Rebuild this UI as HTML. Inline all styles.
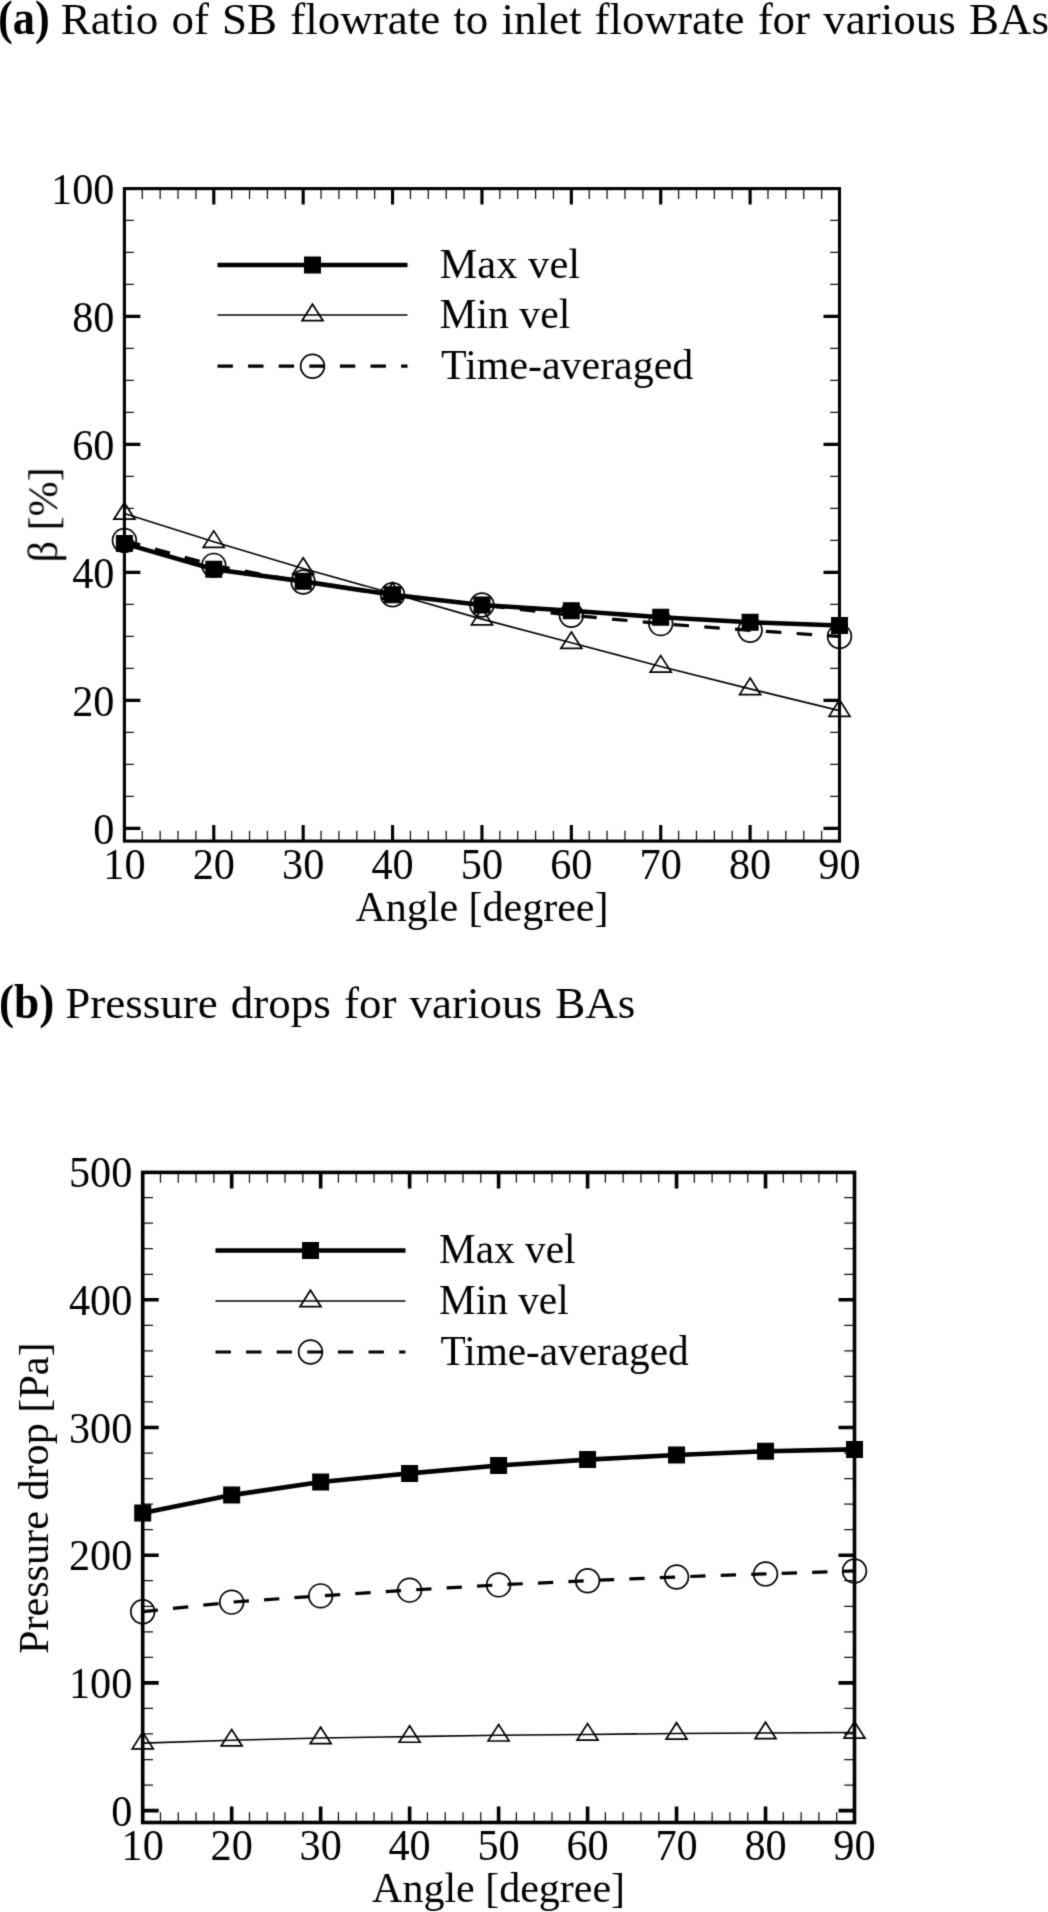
<!DOCTYPE html>
<html lang="en">
<head>
<meta charset="utf-8">
<title>Ratio of SB flowrate and pressure drops for various BAs</title>
<style>
html,body{margin:0;padding:0;background:#fff;}
body{width:1048px;height:1912px;position:relative;overflow:hidden;font-family:"Liberation Serif", "Times New Roman", serif;color:#000;}
figure{margin:0;padding:0;}
figcaption{filter:url(#soft2);position:absolute;left:-4.9px;margin:0;white-space:nowrap;font-size:45px;line-height:52px;height:52px;word-spacing:1.9px;}
#cap-a{top:-8.3px;}
figcaption b{display:inline-block;transform-origin:0 50%;}
#cap-a b{font-size:47.5px;margin-left:2.4px;margin-right:-5.3px;transform:scaleX(0.935);}
#cap-b b{font-size:47.5px;margin-left:2px;margin-right:-5px;transform:scaleX(0.953);}
#cap-b{top:976.4px;left:-3px;}
svg{position:absolute;left:0;top:0;width:1048px;height:1912px;}
.frame{fill:none;stroke:#000;}
.tk-major{fill:none;stroke:#000;}
.tk-minor{fill:none;stroke:#111;stroke-width:1.25;}
.lbl text{font-family:"Liberation Serif", "Times New Roman", serif;font-size:42.0px;fill:#000;}
.lbl text.num{font-size:43.5px;}
.ln-max{fill:none;stroke:#000;stroke-width:4.6;stroke-linejoin:round;}
.ln-min{fill:none;stroke:#000;stroke-width:1.6;}
.ln-avg{fill:none;stroke:#000;stroke-width:3.2;stroke-dasharray:15.4 15.2;}
.mk-sq{fill:#000;stroke:none;}
.mk-tri{fill:none;stroke:#000;stroke-width:1.7;stroke-linejoin:miter;}
.mk-cir{fill:none;stroke:#000;stroke-width:1.7;}
</style>
</head>
<body>
<svg viewBox="0 0 1048 1912" width="1048" height="1912">
<defs>
<filter id="soft" x="0" y="0" width="1048" height="1912" filterUnits="userSpaceOnUse" color-interpolation-filters="sRGB"><feConvolveMatrix order="3" kernelMatrix="0.0192 0.1001 0.0192 0.1001 0.5228 0.1001 0.0192 0.1001 0.0192" divisor="1" edgeMode="duplicate" preserveAlpha="false"/></filter>
<filter id="soft2" x="-2%" y="-10%" width="104%" height="120%" color-interpolation-filters="sRGB"><feConvolveMatrix order="3" kernelMatrix="0.0192 0.1001 0.0192 0.1001 0.5228 0.1001 0.0192 0.1001 0.0192" divisor="1" edgeMode="duplicate" preserveAlpha="false"/></filter>
</defs>
<g filter="url(#soft)">
<g id="chart-a">
<path class="tk-minor" d="M142.28 841.1v-10.3M142.28 188.6v10.3M160.16 841.1v-10.3M160.16 188.6v10.3M178.03 841.1v-10.3M178.03 188.6v10.3M195.91 841.1v-10.3M195.91 188.6v10.3M231.67 841.1v-10.3M231.67 188.6v10.3M249.54 841.1v-10.3M249.54 188.6v10.3M267.42 841.1v-10.3M267.42 188.6v10.3M285.3 841.1v-10.3M285.3 188.6v10.3M321.05 841.1v-10.3M321.05 188.6v10.3M338.93 841.1v-10.3M338.93 188.6v10.3M356.81 841.1v-10.3M356.81 188.6v10.3M374.69 841.1v-10.3M374.69 188.6v10.3M410.44 841.1v-10.3M410.44 188.6v10.3M428.32 841.1v-10.3M428.32 188.6v10.3M446.2 841.1v-10.3M446.2 188.6v10.3M464.07 841.1v-10.3M464.07 188.6v10.3M499.83 841.1v-10.3M499.83 188.6v10.3M517.71 841.1v-10.3M517.71 188.6v10.3M535.58 841.1v-10.3M535.58 188.6v10.3M553.46 841.1v-10.3M553.46 188.6v10.3M589.22 841.1v-10.3M589.22 188.6v10.3M607.09 841.1v-10.3M607.09 188.6v10.3M624.97 841.1v-10.3M624.97 188.6v10.3M642.85 841.1v-10.3M642.85 188.6v10.3M678.6 841.1v-10.3M678.6 188.6v10.3M696.48 841.1v-10.3M696.48 188.6v10.3M714.36 841.1v-10.3M714.36 188.6v10.3M732.24 841.1v-10.3M732.24 188.6v10.3M767.99 841.1v-10.3M767.99 188.6v10.3M785.87 841.1v-10.3M785.87 188.6v10.3M803.75 841.1v-10.3M803.75 188.6v10.3M821.62 841.1v-10.3M821.62 188.6v10.3M124.4 796.4h9.4M839.5 796.4h-9.4M124.4 764.4h9.4M839.5 764.4h-9.4M124.4 732.4h9.4M839.5 732.4h-9.4M124.4 668.4h9.4M839.5 668.4h-9.4M124.4 636.4h9.4M839.5 636.4h-9.4M124.4 604.4h9.4M839.5 604.4h-9.4M124.4 540.4h9.4M839.5 540.4h-9.4M124.4 508.4h9.4M839.5 508.4h-9.4M124.4 476.4h9.4M839.5 476.4h-9.4M124.4 412.4h9.4M839.5 412.4h-9.4M124.4 380.4h9.4M839.5 380.4h-9.4M124.4 348.4h9.4M839.5 348.4h-9.4M124.4 284.4h9.4M839.5 284.4h-9.4M124.4 252.4h9.4M839.5 252.4h-9.4M124.4 220.4h9.4M839.5 220.4h-9.4"/>
<path class="tk-major" stroke-width="3.1" d="M213.79 841.1v-16M213.79 188.6v16M303.18 841.1v-16M303.18 188.6v16M392.56 841.1v-16M392.56 188.6v16M481.95 841.1v-16M481.95 188.6v16M571.34 841.1v-16M571.34 188.6v16M660.73 841.1v-16M660.73 188.6v16M750.11 841.1v-16M750.11 188.6v16M124.4 828.4h16M839.5 828.4h-16M124.4 700.4h16M839.5 700.4h-16M124.4 572.4h16M839.5 572.4h-16M124.4 444.4h16M839.5 444.4h-16M124.4 316.4h16M839.5 316.4h-16"/>
<rect class="frame" stroke-width="3.1" x="124.4" y="188.6" width="715.1" height="652.5"/>
<g class="lbl">
<text class="num" transform="translate(124.4 879.1) scale(0.972 1)" text-anchor="middle">10</text>
<text class="num" transform="translate(213.79 879.1) scale(0.972 1)" text-anchor="middle">20</text>
<text class="num" transform="translate(303.18 879.1) scale(0.972 1)" text-anchor="middle">30</text>
<text class="num" transform="translate(392.56 879.1) scale(0.972 1)" text-anchor="middle">40</text>
<text class="num" transform="translate(481.95 879.1) scale(0.972 1)" text-anchor="middle">50</text>
<text class="num" transform="translate(571.34 879.1) scale(0.972 1)" text-anchor="middle">60</text>
<text class="num" transform="translate(660.73 879.1) scale(0.972 1)" text-anchor="middle">70</text>
<text class="num" transform="translate(750.11 879.1) scale(0.972 1)" text-anchor="middle">80</text>
<text class="num" transform="translate(839.5 879.1) scale(0.972 1)" text-anchor="middle">90</text>
<text class="num" transform="translate(114.4 843.6) scale(0.972 1)" text-anchor="end">0</text>
<text class="num" transform="translate(114.4 715.6) scale(0.972 1)" text-anchor="end">20</text>
<text class="num" transform="translate(114.4 587.6) scale(0.972 1)" text-anchor="end">40</text>
<text class="num" transform="translate(114.4 459.6) scale(0.972 1)" text-anchor="end">60</text>
<text class="num" transform="translate(114.4 331.6) scale(0.972 1)" text-anchor="end">80</text>
<text class="num" transform="translate(114.4 203.6) scale(0.972 1)" text-anchor="end">100</text>
<text transform="translate(481.95 921.3)" text-anchor="middle">Angle [degree]</text>
<text transform="translate(57.3 514.85) rotate(-90)" text-anchor="middle">β [%]</text>
</g>
<g class="series">
<path class="ln-min" d="M124.4 513.52L213.79 541.68L303.18 568.56L392.56 593.52L481.95 619.12L571.34 642.8L660.73 666.48L750.11 688.88L839.5 710.64"/>
<path class="mk-tri" d="M124.4 502.69L134.9 519.19L113.9 519.19ZM213.79 530.85L224.29 547.35L203.29 547.35ZM303.18 557.73L313.68 574.23L292.68 574.23ZM392.56 582.69L403.06 599.19L382.06 599.19ZM481.95 608.29L492.45 624.79L471.45 624.79ZM571.34 631.97L581.84 648.47L560.84 648.47ZM660.73 655.65L671.23 672.15L650.23 672.15ZM750.11 678.05L760.61 694.55L739.61 694.55ZM839.5 699.81L850 716.31L829 716.31Z"/>
<path class="ln-avg" style="stroke-dasharray:15.5 15.37;stroke-dashoffset:-0.9" d="M124.4 540.4L213.79 565.36L303.18 582L392.56 594.8L481.95 605.04L571.34 615.28L660.73 623.6L750.11 630.32L839.5 636.4"/>
<circle class="mk-cir" cx="124.4" cy="540.4" r="11.85"/>
<circle class="mk-cir" cx="213.79" cy="565.36" r="11.85"/>
<circle class="mk-cir" cx="303.18" cy="582" r="11.85"/>
<circle class="mk-cir" cx="392.56" cy="594.8" r="11.85"/>
<circle class="mk-cir" cx="481.95" cy="605.04" r="11.85"/>
<circle class="mk-cir" cx="571.34" cy="615.28" r="11.85"/>
<circle class="mk-cir" cx="660.73" cy="623.6" r="11.85"/>
<circle class="mk-cir" cx="750.11" cy="630.32" r="11.85"/>
<circle class="mk-cir" cx="839.5" cy="636.4" r="11.85"/>
<path class="ln-max" d="M124.4 543.6L213.79 569.2L303.18 581.36L392.56 594.8L481.95 605.04L571.34 610.8L660.73 617.2L750.11 622.32L839.5 625.52"/>
<path class="mk-sq" d="M115.9 535.1h17v17h-17zM205.29 560.7h17v17h-17zM294.68 572.86h17v17h-17zM384.06 586.3h17v17h-17zM473.45 596.54h17v17h-17zM562.84 602.3h17v17h-17zM652.23 608.7h17v17h-17zM741.61 613.82h17v17h-17zM831 617.02h17v17h-17z"/>
</g>
<g class="legend">
<path class="ln-max" d="M217.5 265H407.5"/>
<path class="mk-sq" d="M304 256.5h17v17h-17z"/>
<path class="ln-min" d="M217.5 315H407.5"/>
<path class="mk-tri" d="M312.5 304.17L323 320.67L302 320.67Z"/>
<path class="ln-avg" d="M217.5 366.2H407.5"/>
<circle class="mk-cir" cx="312.5" cy="366.2" r="11.85"/>
<g class="lbl">
<text transform="translate(439.5 277.9) scale(1.013 1)">Max vel</text>
<text transform="translate(439.5 327.9) scale(0.992 1)">Min vel</text>
<text transform="translate(441 379.1) scale(0.9985 1)">Time-averaged</text>
</g></g>
</g>
<g id="chart-b">
<path class="tk-minor" d="M160.49 1822.5v-10.3M160.49 1172.4v10.3M178.29 1822.5v-10.3M178.29 1172.4v10.3M196.08 1822.5v-10.3M196.08 1172.4v10.3M213.88 1822.5v-10.3M213.88 1172.4v10.3M249.47 1822.5v-10.3M249.47 1172.4v10.3M267.26 1822.5v-10.3M267.26 1172.4v10.3M285.06 1822.5v-10.3M285.06 1172.4v10.3M302.86 1822.5v-10.3M302.86 1172.4v10.3M338.44 1822.5v-10.3M338.44 1172.4v10.3M356.24 1822.5v-10.3M356.24 1172.4v10.3M374.03 1822.5v-10.3M374.03 1172.4v10.3M391.83 1822.5v-10.3M391.83 1172.4v10.3M427.42 1822.5v-10.3M427.42 1172.4v10.3M445.21 1822.5v-10.3M445.21 1172.4v10.3M463.01 1822.5v-10.3M463.01 1172.4v10.3M480.8 1822.5v-10.3M480.8 1172.4v10.3M516.39 1822.5v-10.3M516.39 1172.4v10.3M534.19 1822.5v-10.3M534.19 1172.4v10.3M551.98 1822.5v-10.3M551.98 1172.4v10.3M569.78 1822.5v-10.3M569.78 1172.4v10.3M605.37 1822.5v-10.3M605.37 1172.4v10.3M623.16 1822.5v-10.3M623.16 1172.4v10.3M640.96 1822.5v-10.3M640.96 1172.4v10.3M658.75 1822.5v-10.3M658.75 1172.4v10.3M694.35 1822.5v-10.3M694.35 1172.4v10.3M712.14 1822.5v-10.3M712.14 1172.4v10.3M729.93 1822.5v-10.3M729.93 1172.4v10.3M747.73 1822.5v-10.3M747.73 1172.4v10.3M783.32 1822.5v-10.3M783.32 1172.4v10.3M801.12 1822.5v-10.3M801.12 1172.4v10.3M818.91 1822.5v-10.3M818.91 1172.4v10.3M836.7 1822.5v-10.3M836.7 1172.4v10.3M142.7 1785.06h10.3M854.5 1785.06h-10.3M142.7 1759.52h10.3M854.5 1759.52h-10.3M142.7 1733.98h10.3M854.5 1733.98h-10.3M142.7 1708.44h10.3M854.5 1708.44h-10.3M142.7 1657.36h10.3M854.5 1657.36h-10.3M142.7 1631.82h10.3M854.5 1631.82h-10.3M142.7 1606.28h10.3M854.5 1606.28h-10.3M142.7 1580.74h10.3M854.5 1580.74h-10.3M142.7 1529.66h10.3M854.5 1529.66h-10.3M142.7 1504.12h10.3M854.5 1504.12h-10.3M142.7 1478.58h10.3M854.5 1478.58h-10.3M142.7 1453.04h10.3M854.5 1453.04h-10.3M142.7 1401.96h10.3M854.5 1401.96h-10.3M142.7 1376.42h10.3M854.5 1376.42h-10.3M142.7 1350.88h10.3M854.5 1350.88h-10.3M142.7 1325.34h10.3M854.5 1325.34h-10.3M142.7 1274.26h10.3M854.5 1274.26h-10.3M142.7 1248.72h10.3M854.5 1248.72h-10.3M142.7 1223.18h10.3M854.5 1223.18h-10.3M142.7 1197.64h10.3M854.5 1197.64h-10.3"/>
<path class="tk-major" stroke-width="3.6" d="M231.67 1822.5v-16M231.67 1172.4v16M320.65 1822.5v-16M320.65 1172.4v16M409.62 1822.5v-16M409.62 1172.4v16M498.6 1822.5v-16M498.6 1172.4v16M587.58 1822.5v-16M587.58 1172.4v16M676.55 1822.5v-16M676.55 1172.4v16M765.53 1822.5v-16M765.53 1172.4v16M142.7 1810.6h16M854.5 1810.6h-16M142.7 1682.9h16M854.5 1682.9h-16M142.7 1555.2h16M854.5 1555.2h-16M142.7 1427.5h16M854.5 1427.5h-16M142.7 1299.8h16M854.5 1299.8h-16"/>
<rect class="frame" stroke-width="3.6" x="142.7" y="1172.4" width="711.8" height="650.1"/>
<g class="lbl">
<text class="num" transform="translate(142.7 1860.2) scale(0.972 1)" text-anchor="middle">10</text>
<text class="num" transform="translate(231.67 1860.2) scale(0.972 1)" text-anchor="middle">20</text>
<text class="num" transform="translate(320.65 1860.2) scale(0.972 1)" text-anchor="middle">30</text>
<text class="num" transform="translate(409.62 1860.2) scale(0.972 1)" text-anchor="middle">40</text>
<text class="num" transform="translate(498.6 1860.2) scale(0.972 1)" text-anchor="middle">50</text>
<text class="num" transform="translate(587.58 1860.2) scale(0.972 1)" text-anchor="middle">60</text>
<text class="num" transform="translate(676.55 1860.2) scale(0.972 1)" text-anchor="middle">70</text>
<text class="num" transform="translate(765.53 1860.2) scale(0.972 1)" text-anchor="middle">80</text>
<text class="num" transform="translate(854.5 1860.2) scale(0.972 1)" text-anchor="middle">90</text>
<text class="num" transform="translate(132.3 1825.8) scale(0.972 1)" text-anchor="end">0</text>
<text class="num" transform="translate(132.3 1698.1) scale(0.972 1)" text-anchor="end">100</text>
<text class="num" transform="translate(132.3 1570.4) scale(0.972 1)" text-anchor="end">200</text>
<text class="num" transform="translate(132.3 1442.7) scale(0.972 1)" text-anchor="end">300</text>
<text class="num" transform="translate(132.3 1315) scale(0.972 1)" text-anchor="end">400</text>
<text class="num" transform="translate(132.3 1187.3) scale(0.972 1)" text-anchor="end">500</text>
<text transform="translate(498.6 1902.4)" text-anchor="middle">Angle [degree]</text>
<text transform="translate(48 1498.2) rotate(-90) scale(1.005 1)" text-anchor="middle">Pressure drop [Pa]</text>
</g>
<g class="series">
<path class="ln-min" d="M142.7 1743.11L231.67 1740.3L320.65 1738L409.62 1736.6L498.6 1735.32L587.58 1734.43L676.55 1733.53L765.53 1733.02L854.5 1732.51"/>
<path class="mk-tri" d="M142.7 1732.28L153.2 1748.78L132.2 1748.78ZM231.67 1729.47L242.17 1745.97L221.17 1745.97ZM320.65 1727.17L331.15 1743.67L310.15 1743.67ZM409.62 1725.77L420.12 1742.27L399.12 1742.27ZM498.6 1724.49L509.1 1740.99L488.1 1740.99ZM587.58 1723.6L598.08 1740.1L577.08 1740.1ZM676.55 1722.7L687.05 1739.2L666.05 1739.2ZM765.53 1722.19L776.03 1738.69L755.03 1738.69ZM854.5 1721.68L865 1738.18L844 1738.18Z"/>
<path class="ln-avg" style="stroke-dasharray:15.3 15.19;stroke-dashoffset:0" d="M142.7 1611.71L231.67 1602.13L320.65 1595.87L409.62 1590.13L498.6 1584.89L587.58 1580.68L676.55 1576.97L765.53 1573.91L854.5 1570.97"/>
<circle class="mk-cir" cx="142.7" cy="1611.71" r="11.85"/>
<circle class="mk-cir" cx="231.67" cy="1602.13" r="11.85"/>
<circle class="mk-cir" cx="320.65" cy="1595.87" r="11.85"/>
<circle class="mk-cir" cx="409.62" cy="1590.13" r="11.85"/>
<circle class="mk-cir" cx="498.6" cy="1584.89" r="11.85"/>
<circle class="mk-cir" cx="587.58" cy="1580.68" r="11.85"/>
<circle class="mk-cir" cx="676.55" cy="1576.97" r="11.85"/>
<circle class="mk-cir" cx="765.53" cy="1573.91" r="11.85"/>
<circle class="mk-cir" cx="854.5" cy="1570.97" r="11.85"/>
<path class="ln-max" d="M142.7 1513L231.67 1495.12L320.65 1481.96L409.62 1473.41L498.6 1465.49L587.58 1459.62L676.55 1455.02L765.53 1451.32L854.5 1449.4"/>
<path class="mk-sq" d="M134.2 1504.5h17v17h-17zM223.17 1486.62h17v17h-17zM312.15 1473.46h17v17h-17zM401.12 1464.91h17v17h-17zM490.1 1456.99h17v17h-17zM579.08 1451.12h17v17h-17zM668.05 1446.52h17v17h-17zM757.03 1442.82h17v17h-17zM846 1440.9h17v17h-17z"/>
</g>
<g class="legend">
<path class="ln-max" d="M215.5 1250.5H405.5"/>
<path class="mk-sq" d="M302 1242h17v17h-17z"/>
<path class="ln-min" d="M215.5 1301H405.5"/>
<path class="mk-tri" d="M310.5 1290.17L321 1306.67L300 1306.67Z"/>
<path class="ln-avg" d="M215.5 1352H405.5"/>
<circle class="mk-cir" cx="310.5" cy="1352" r="11.85"/>
<g class="lbl">
<text transform="translate(439 1263.4) scale(0.9846 1)">Max vel</text>
<text transform="translate(439 1313.9) scale(0.9835 1)">Min vel</text>
<text transform="translate(440.5 1364.9) scale(0.982 1)">Time-averaged</text>
</g></g>
</g>
</g>
</svg>
<figure>
<figcaption id="cap-a"><b>(a)</b> Ratio of SB flowrate to inlet flowrate for various BAs</figcaption>
<figcaption id="cap-b"><b>(b)</b> Pressure drops for various BAs</figcaption>
</figure>
</body>
</html>
